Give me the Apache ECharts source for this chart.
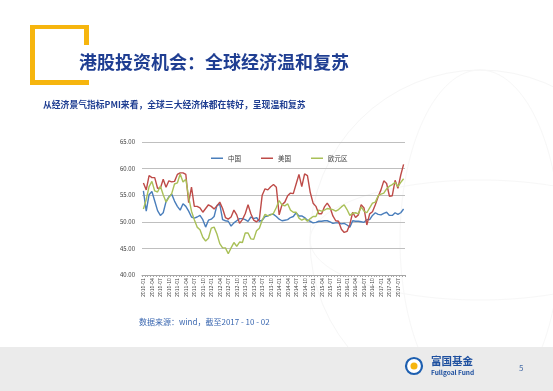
<!DOCTYPE html>
<html>
<head>
<meta charset="utf-8">
<script src="https://cdn.jsdelivr.net/npm/echarts@6/dist/echarts.min.js"></script>
<style>
html,body{margin:0;padding:0;background:#fff;}
#c{width:553px;height:391px;}
</style>
</head>
<body>
<div id="c"></div>
<script>
// ---- data ----
const years = [2010, 2011, 2012, 2013, 2014, 2015, 2016, 2017];
const lastMonth2017 = 9;
const seriesNames = ['中国', '美国', '欧元区'];
const china = [
  55.8, 52.0, 55.1, 55.7, 53.9, 52.1, 51.2, 51.7, 53.8, 54.7, 55.2, 53.9,
  52.9, 52.2, 53.4, 52.9, 52.0, 50.9, 50.7, 50.9, 51.2, 50.4, 49.0, 50.3,
  50.5, 51.0, 53.1, 53.3, 50.4, 50.2, 50.1, 49.2, 49.8, 50.2, 50.6, 50.6,
  50.4, 50.1, 50.9, 50.6, 50.8, 50.1, 50.3, 51.0, 51.1, 51.4, 51.4, 51.0,
  50.5, 50.2, 50.3, 50.4, 50.8, 51.0, 51.7, 51.1, 51.1, 50.8, 50.3, 50.1,
  49.8, 49.9, 50.1, 50.1, 50.2, 50.2, 50.0, 49.7, 49.8, 49.8, 49.6, 49.7,
  49.4, 49.0, 50.2, 50.1, 50.1, 50.0, 49.9, 50.4, 50.4, 51.2, 51.7, 51.4,
  51.3, 51.6, 51.8, 51.2, 51.2, 51.7, 51.4, 51.7, 52.4
];
const usa = [
  57.3, 56.0, 58.7, 58.3, 58.3, 56.3, 56.3, 58.0, 56.5, 57.7, 57.5, 57.6,
  58.9, 59.2, 59.2, 58.9, 53.6, 56.5, 52.9, 52.9, 52.6, 51.8, 52.5, 53.2,
  52.9, 52.4, 53.0, 53.7, 52.5, 50.8, 50.5, 50.9, 52.2, 51.3, 49.7, 50.4,
  51.5, 53.2, 51.5, 50.3, 50.0, 50.5, 55.0, 56.2, 56.0, 56.6, 57.0, 56.5,
  51.3, 53.2, 53.7, 54.9, 55.4, 55.3, 57.1, 58.9, 56.6, 59.0, 58.7, 55.5,
  53.5, 52.9, 51.5, 51.5, 52.8, 53.5, 52.7, 51.1, 50.2, 50.1, 48.6, 48.0,
  48.2, 49.5, 51.8, 50.8, 51.3, 53.2, 52.6, 49.4, 51.5, 51.9, 53.2, 54.7,
  56.0, 57.7, 57.2, 54.8, 54.9, 57.8, 56.3, 58.8, 60.8
];
const euro = [
  52.4, 54.2, 56.6, 57.6, 55.8, 55.6, 56.7, 55.1, 53.7, 54.6, 55.3, 57.1,
  57.3, 59.0, 57.5, 58.0, 54.6, 52.0, 50.4, 49.0, 48.5, 47.1, 46.4, 46.9,
  48.8, 49.0, 47.7, 45.9, 45.1, 45.1, 44.0, 45.1, 46.1, 45.4, 46.2, 46.1,
  47.9, 47.9, 46.8, 46.7, 48.3, 48.8, 50.3, 51.4, 51.1, 51.3, 51.6, 52.7,
  54.0, 53.2, 53.0, 53.4, 52.2, 51.8, 51.8, 50.7, 50.3, 50.6, 50.1, 50.6,
  51.0, 51.0, 52.2, 52.0, 52.2, 52.5, 52.4, 52.3, 52.0, 52.3, 52.8, 53.2,
  52.3, 51.2, 51.6, 51.7, 51.5, 52.8, 52.0, 51.7, 52.6, 53.5, 53.7, 54.9,
  55.2, 55.4, 56.2, 56.7, 57.0, 57.4, 56.6, 57.4, 58.1
];
const titleText = '港股投资机会：全球经济温和复苏';
const subtitleText = '从经济景气指标PMI来看，全球三大经济体都在转好，呈现温和复苏';
const sourceText = '数据来源：wind，截至2017 - 10 - 02';

const categories = [];
years.forEach(y => {
  const n = y === 2017 ? lastMonth2017 : 12;
  for (let m = 1; m <= n; m++) categories.push(y + '-' + (m < 10 ? '0' + m : m));
});

const FONT = '"Noto Sans CJK SC", "Noto Sans", sans-serif';
const chart = echarts.init(document.getElementById('c'), null, {renderer: 'canvas'});
const colors = ['#4a7ebb', '#be4b48', '#a9c058'];

chart.setOption({
  backgroundColor: '#ffffff',
  animation: false,
  color: colors,
  textStyle: {fontFamily: FONT},
  graphic: [
    // faint globe decoration
    {type: 'circle', shape: {cx: 480, cy: 240, r: 170}, style: {fill: 'none', stroke: '#f6f6f6', lineWidth: 1}, z: -10, silent: true},
    {type: 'ellipse', shape: {cx: 480, cy: 240, rx: 80, ry: 170}, style: {fill: 'none', stroke: '#f7f7f7', lineWidth: 1}, z: -10, silent: true},
    {type: 'ellipse', shape: {cx: 480, cy: 240, rx: 170, ry: 60}, style: {fill: 'none', stroke: '#f7f7f7', lineWidth: 1}, z: -10, silent: true},
    // yellow frame
    {type: 'rect', shape: {x: 30, y: 25, width: 5, height: 60}, style: {fill: '#f6b50e'}},
    {type: 'rect', shape: {x: 30, y: 25, width: 59, height: 4}, style: {fill: '#f6b50e'}},
    {type: 'rect', shape: {x: 84, y: 25, width: 5, height: 20}, style: {fill: '#f6b50e'}},
    {type: 'rect', shape: {x: 30, y: 80, width: 59, height: 5}, style: {fill: '#f6b50e'}},
    {type: 'text', x: 79, y: 62, style: {text: titleText, fill: '#1f3e92', font: 'bold 18px ' + FONT, verticalAlign: 'middle'}},
    {type: 'text', x: 43, y: 105, style: {text: subtitleText, fill: '#1f3e92', font: 'bold 8.8px ' + FONT, verticalAlign: 'middle'}},
    {type: 'text', x: 139, y: 322, style: {text: sourceText, fill: '#3a67b0', font: '8px ' + FONT, verticalAlign: 'middle'}},
    // footer
    {type: 'rect', shape: {x: 0, y: 347, width: 553, height: 44}, style: {fill: '#ebebeb'}, z: -5},
    {type: 'circle', shape: {cx: 414, cy: 366, r: 8}, style: {fill: '#ffffff', stroke: '#1d5fb0', lineWidth: 2.2}},
    {type: 'circle', shape: {cx: 414, cy: 366, r: 3.5}, style: {fill: '#f6b50e'}},
    {type: 'text', x: 431, y: 361, style: {text: '富国基金', fill: '#1d4f9f', font: 'bold 10.5px ' + FONT, verticalAlign: 'middle'}},
    {type: 'text', x: 431, y: 373, style: {text: 'Fullgoal Fund', fill: '#1d4f9f', font: 'bold 6.5px ' + FONT, verticalAlign: 'middle'}},
    {type: 'text', x: 519, y: 368, style: {text: '5', fill: '#4a6fa8', font: '8px ' + FONT, verticalAlign: 'middle'}}
  ],
  legend: {
    left: 206, top: 150,
    icon: 'rect',
    itemWidth: 12, itemHeight: 1.5, itemGap: 20,
    textStyle: {fontSize: 6.5, color: '#404040', fontFamily: FONT},
    data: seriesNames
  },
  grid: {left: 142, right: 148, top: 142, bottom: 116},
  xAxis: {
    type: 'category',
    data: categories,
    boundaryGap: true,
    axisLine: {lineStyle: {color: '#a6a6a6', width: 1}},
    axisTick: {show: true, interval: 0, length: 2, lineStyle: {color: '#a6a6a6'}},
    axisLabel: {interval: 2, rotate: 90, fontSize: 5.2, color: '#404040', margin: 3, fontFamily: FONT},
    splitLine: {show: false}
  },
  yAxis: {
    type: 'value', min: 40, max: 65, interval: 5,
    axisLine: {show: false}, axisTick: {show: false},
    axisLabel: {fontSize: 6, color: '#404040', margin: 7, formatter: v => v.toFixed(2), fontFamily: FONT},
    splitLine: {lineStyle: {color: '#bfbfbf', width: 1}}
  },
  series: [
    {name: seriesNames[0], type: 'line', data: china, symbol: 'none', lineStyle: {width: 1.4}},
    {name: seriesNames[1], type: 'line', data: usa, symbol: 'none', lineStyle: {width: 1.4}},
    {name: seriesNames[2], type: 'line', data: euro, symbol: 'none', lineStyle: {width: 1.4}}
  ]
});
</script>
</body>
</html>
